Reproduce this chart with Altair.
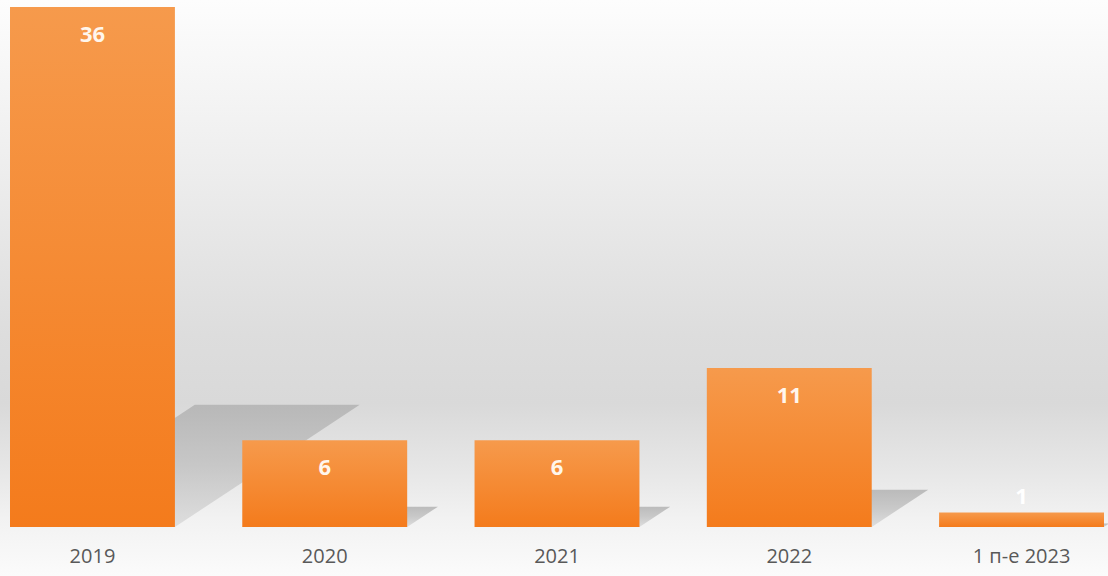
import altair as alt
import pandas as pd

categories = ["2019", "2020", "2021", "2022", "1 п-е 2023"]
values = [36, 6, 6, 11, 1]

W, H = 1094, 520
BAR = 0.71          # bar width in step units
SH_H = 0.235        # shadow height relative to bar value
SH_SHIFT = 0.0221   # shadow horizontal shift (step units) per value unit

df = pd.DataFrame({"cat": categories, "value": values,
                   "idx": list(range(len(categories)))})

rows = []
for c, v, i in zip(categories, values, range(len(categories))):
    rows.append({"cat": c, "yy": 0.0, "xl": i, "xr": i + BAR})
    rows.append({"cat": c, "yy": v * SH_H, "xl": i + SH_SHIFT * v, "xr": i + BAR + SH_SHIFT * v})
shadow_df = pd.DataFrame(rows)

xs = alt.Scale(domain=[0, len(categories) - 1 + BAR], range=[0, W], nice=False, zero=False)
ys = alt.Scale(domain=[0, max(values)], nice=False)

bg = alt.Chart(pd.DataFrame({"a": [0]})).mark_rect(
    fill={"gradient": "linear", "x1": 0, "y1": 0, "x2": 0, "y2": 1,
          "stops": [{"offset": 0, "color": "#fdfdfd"},
                    {"offset": 0.3, "color": "#ededed"},
                    {"offset": 0.58, "color": "#dddddd"},
                    {"offset": 0.7, "color": "#d9d9d9"},
                    {"offset": 0.82, "color": "#e7e7e7"},
                    {"offset": 0.9, "color": "#f2f2f2"},
                    {"offset": 1, "color": "#fbfbfb"}]}
).encode(x=alt.value(-10), x2=alt.value(W + 4), y=alt.value(-7), y2=alt.value(H + 49))

shadow = alt.Chart(shadow_df).mark_area(
    orient="horizontal",
    fill={"gradient": "linear", "x1": 0, "y1": 0, "x2": 0, "y2": 1,
          "stops": [{"offset": 0, "color": "#b2b2b2"},
                    {"offset": 0.5, "color": "#c2c2c2"},
                    {"offset": 1, "color": "#dadada"}]},
    opacity=0.85
).encode(
    y=alt.Y("yy:Q", scale=ys, axis=None),
    x=alt.X("xl:Q", scale=xs, axis=None),
    x2="xr:Q",
    detail="cat:N",
)

base = alt.Chart(df).transform_calculate(
    xr=f"datum.idx + {BAR}", xm=f"datum.idx + {BAR / 2}", zero="0"
)

bars = base.mark_rect(
    color={"gradient": "linear", "x1": 0, "y1": 0, "x2": 0, "y2": 1,
           "stops": [{"offset": 0, "color": "#f69a4c"},
                     {"offset": 1, "color": "#f47b1c"}]}
).encode(
    x=alt.X("idx:Q", scale=xs, axis=None),
    x2="xr:Q",
    y=alt.Y("value:Q", scale=ys, axis=None),
    y2="zero:Q",
)

lab_in = base.transform_filter("datum.value >= 4").mark_text(
    font="Open Sans", fontSize=22, fontWeight="bold", color="#fff6ec",
    baseline="middle", dy=28
).encode(x=alt.X("xm:Q", scale=xs), y=alt.Y("value:Q", scale=ys), text="value:Q")

lab_out = base.transform_filter("datum.value < 4").mark_text(
    font="Open Sans", fontSize=22, fontWeight="bold", color="#ffffff",
    baseline="middle", dy=-16
).encode(x=alt.X("xm:Q", scale=xs), y=alt.Y("value:Q", scale=ys), text="value:Q")

xlab = base.mark_text(
    font="Open Sans", fontSize=20, color="#595959", baseline="middle"
).encode(x=alt.X("xm:Q", scale=xs), y=alt.value(H + 30), text="cat:N")

chart = alt.layer(bg, shadow, bars, lab_in, lab_out, xlab).properties(
    width=W, height=H,
    autosize=alt.AutoSizeParams(type="none"),
    padding={"left": 10, "top": 7, "right": 4, "bottom": 49},
    background="#ffffff",
).configure_view(stroke=None)

chart.save("out.html", embed_options={"renderer": "svg", "actions": False})
